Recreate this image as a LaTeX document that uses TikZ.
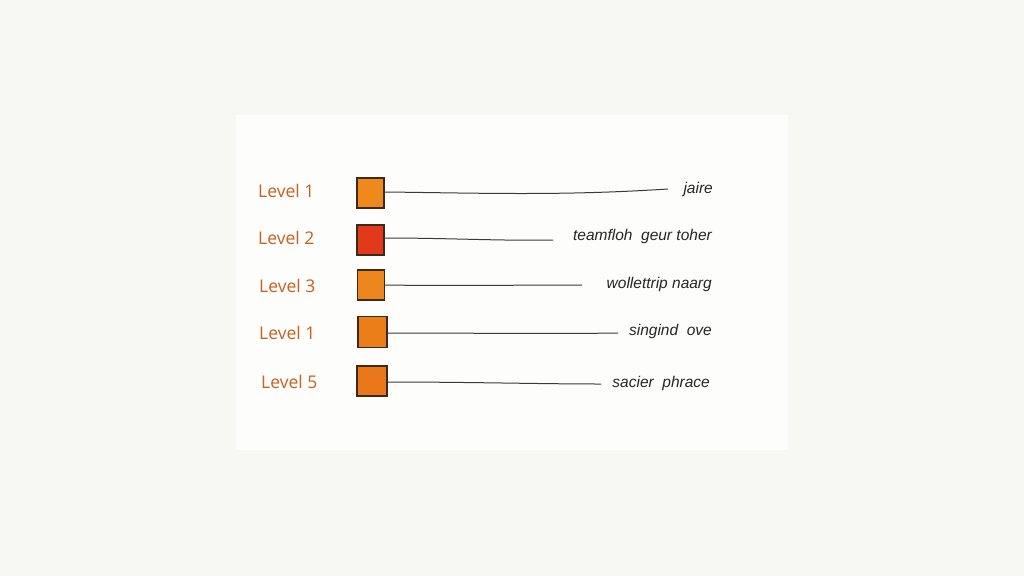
\documentclass[tikz,border=0pt]{standalone}
\usepackage{fontspec}
\setmainfont{Open Sans}
\newfontfamily\handfont{Liberation Sans}
\definecolor{bgc}{HTML}{F7F7F3}
\definecolor{paper}{HTML}{FDFDFB}
\definecolor{lvl}{HTML}{C4621E}
\definecolor{sqA}{HTML}{F0891C}
\definecolor{sqB}{HTML}{E2391A}
\definecolor{sqC}{HTML}{EE861E}
\definecolor{sqD}{HTML}{EC7E1A}
\definecolor{sqE}{HTML}{EA771A}
\definecolor{ink}{HTML}{3B2A1C}
\definecolor{wire}{HTML}{3A3A3A}
\begin{document}
\begin{tikzpicture}[x=1pt,y=-1pt,
  lvllabel/.style={text=lvl,font=\fontsize{17.5}{20}\selectfont,anchor=west,inner sep=0},
  sq/.style={draw=ink,line width=1.1pt,minimum width=27pt,minimum height=30pt,inner sep=0},
  wirel/.style={draw=wire,line width=1pt},
  rtext/.style={text=black!85,font=\handfont\itshape\fontsize{15.5}{18}\selectfont,anchor=east,inner sep=0}]
\useasboundingbox (0,0) rectangle (1024,576);
\fill[bgc] (0,0) rectangle (1024,576);
\fill[paper] (236,115) rectangle (788,450);
% labels
\node[lvllabel] (l1) at (258,191) {Level 1};
\node[lvllabel] (l2) at (258,238) {Level 2};
\node[lvllabel] (l3) at (259,286) {Level 3};
\node[lvllabel] (l4) at (259,333) {Level 1};
\node[lvllabel] (l5) at (261,382) {Level 5};
% squares
\node[sq,fill=sqA] (s1) at (370.5,193) {};
\node[sq,fill=sqB] (s2) at (370.5,240) {};
\node[sq,fill=sqC] (s3) at (371,285) {};
\node[sq,fill=sqD,minimum width=29pt,minimum height=31pt] (s4) at (372.5,332) {};
\node[sq,fill=sqE,minimum width=30pt] (s5) at (372,381) {};
% line ends
\coordinate (e1) at (668,189);
\coordinate (e2) at (553,240);
\coordinate (e3) at (582,285);
\coordinate (e4) at (618,333);
\coordinate (e5) at (601,384);
\draw[wirel] (s1.east |- 0,192) .. controls (480,193) and (560,196) .. (e1);
\draw[wirel] (s2.east |- 0,238) .. controls (450,238) and (500,241) .. (e2);
\draw[wirel] (s3.east |- 0,285) .. controls (450,286) and (520,285) .. (e3);
\draw[wirel] (s4.east |- 0,333) .. controls (470,333) and (550,334) .. (e4);
\draw[wirel] (s5.east |- 0,382) .. controls (470,382) and (540,384) .. (e5);
% right texts
\node[rtext] (t1) at (713,189) {jaire};
\node[rtext] (t2) at (712,236) {teamfloh\ \ geur toher};
\node[rtext] (t3) at (712,284) {wollettrip naarg};
\node[rtext] (t4) at (712,331) {singind\ \ ove};
\node[rtext] (t5) at (710,383) {sacier\ \ phrace};
\end{tikzpicture}
\end{document}
